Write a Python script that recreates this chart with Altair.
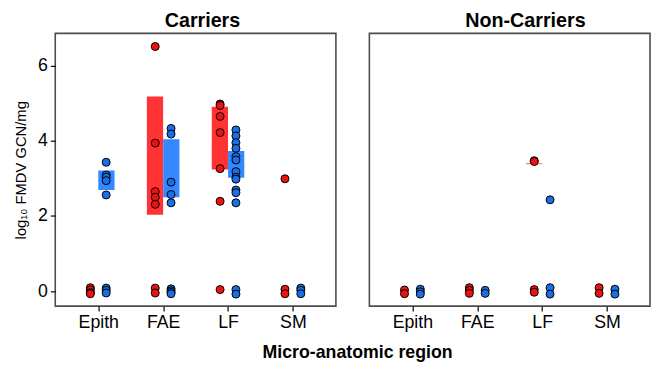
import json
import altair as alt
import pandas as pd

regions = ["Epith", "FAE", "LF", "SM"]
groups = ["Red group", "Blue group"]

# Values per region (Epith, FAE, LF, SM), log10 FMDV GCN/mg
carriers_red = [
    [0.09, 0.03, -0.04, -0.07],
    [6.51, 3.94, 2.65, 2.50, 2.31, 0.08, -0.05],
    [4.98, 4.94, 4.65, 4.22, 3.26, 2.39, 0.04],
    [2.99, 0.05, -0.07],
]
carriers_blue = [
    [3.43, 3.09, 3.03, 2.94, 2.56, 0.08, 0.02, -0.05],
    [4.33, 4.18, 2.90, 2.57, 2.35, 0.06, 0.01, -0.03, -0.07],
    [4.29, 4.13, 3.95, 3.80, 3.58, 3.49, 3.18, 3.03, 2.98, 2.69, 2.62, 2.35, 0.04, -0.08],
    [0.08, 0.02, -0.07],
]
noncarriers_red = [
    [0.03, -0.07],
    [0.09, 0.02, -0.06],
    [3.47, 3.45, 0.04, -0.03],
    [0.09, -0.06],
]
noncarriers_blue = [
    [0.05, -0.02, -0.08],
    [0.02, -0.06],
    [2.43, 0.09, -0.08],
    [0.05, -0.08],
]

# Interval bars
bar_panel = ["Carriers", "Carriers", "Carriers", "Carriers", "Carriers", "Non-Carriers"]
bar_region = ["Epith", "FAE", "FAE", "LF", "LF", "LF"]
bar_group = ["Blue group", "Red group", "Blue group", "Red group", "Blue group", "Red group"]
bar_low = [2.69, 2.03, 2.50, 3.24, 3.02, 3.38]
bar_high = [3.21, 5.18, 4.04, 4.91, 3.73, 3.40]

group_shift = {"Red group": -0.122, "Blue group": 0.122}

rows = []
for panel, grp, series in [
    ("Carriers", "Red group", carriers_red),
    ("Carriers", "Blue group", carriers_blue),
    ("Non-Carriers", "Red group", noncarriers_red),
    ("Non-Carriers", "Blue group", noncarriers_blue),
]:
    for i, vals in enumerate(series):
        for v in vals:
            rows.append(dict(panel=panel, group=grp, region=regions[i],
                             pos=i + 1 + group_shift[grp], value=v))
points = pd.DataFrame(rows)

bars = pd.DataFrame(dict(panel=bar_panel, region=bar_region, group=bar_group,
                         low=bar_low, high=bar_high))
bars["pos"] = [regions.index(r) + 1 + group_shift[g] * 1.03 for r, g in zip(bars.region, bars.group)]

FONT = "Liberation Sans"
W, H = 285, 277
xscale = alt.Scale(domain=[0.413, 4.587], nice=False, zero=False)
yscale = alt.Scale(domain=[-0.4, 6.86], nice=False, zero=False)
label_expr = json.dumps(regions) + "[datum.value - 1]"


def panel(name, show_y, dx):
    xaxis = alt.Axis(values=[1, 2, 3, 4], labelExpr=label_expr, title=None,
                     labelFontSize=18, labelColor="black", tickColor="black",
                     tickSize=5, tickWidth=1.2, domain=False, grid=False,
                     labelPadding=3, labelOverlap=False, labelFont=FONT)
    if show_y:
        yaxis = alt.Axis(values=[0, 2, 4, 6], title="log₁₀ FMDV GCN/mg",
                         titleFontSize=15, titleFontWeight="normal", titleColor="black",
                         titleFont=FONT, labelFont=FONT,
                         labelFontSize=18, labelColor="black", tickColor="black",
                         tickSize=5, tickWidth=1.2, domain=False, grid=False,
                         labelPadding=3, titlePadding=9)
    else:
        yaxis = None
    b = alt.Chart(bars[bars.panel == name]).mark_bar(size=16.5).encode(
        x=alt.X("pos:Q", scale=xscale, axis=xaxis),
        y=alt.Y("low:Q", scale=yscale, axis=yaxis),
        y2="high:Q",
        color=alt.Color("group:N", scale=alt.Scale(domain=groups, range=["#FF3333", "#3388FF"]),
                        legend=None),
    )
    p = alt.Chart(points[points.panel == name]).mark_point(
        filled=True, size=66, stroke="black", strokeWidth=1, opacity=1
    ).encode(
        x=alt.X("pos:Q", scale=xscale, axis=xaxis),
        y=alt.Y("value:Q", scale=yscale, axis=yaxis),
        fill=alt.Fill("group:N", scale=alt.Scale(domain=groups, range=["#EE1111", "#1A6FE6"]),
                      legend=None),
    )
    return alt.layer(b, p).properties(
        width=W, height=H,
        title=alt.TitleParams(name, fontSize=20, fontWeight="bold", font=FONT,
                              anchor="middle", dx=dx, offset=2, color="black"),
    )


chart = alt.hconcat(
    panel("Carriers", True, 7),
    panel("Non-Carriers", False, 16),
    spacing=32,
).properties(
    title=alt.TitleParams("Micro-anatomic region", orient="bottom", anchor="middle",
                          fontSize=18, fontWeight="bold", font=FONT, color="black",
                          dx=26, offset=12),
).configure(
    font=FONT,
    padding={"left": 5, "top": 0, "right": 0, "bottom": 0},
    view=alt.ViewConfig(stroke="#4d4d4d", strokeWidth=1.6),
)

chart.save("out.html", embed_options={"renderer": "svg", "actions": False})
